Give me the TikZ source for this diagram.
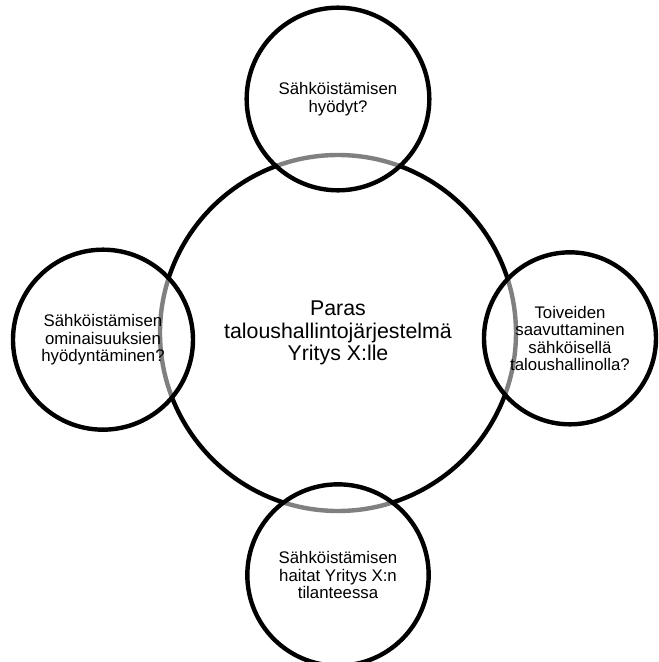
\documentclass[tikz,border=0pt]{standalone}
\usepackage{fontspec}
\setmainfont{Liberation Sans}
\usetikzlibrary{positioning}

\begin{document}
\begin{tikzpicture}[x=0.75pt, y=0.75pt, on grid,
  hub/.style={circle, draw, line width=3.3pt, minimum size=267pt, inner sep=0pt, align=center, font=\fontsize{16}{17}\selectfont},
  spoke/.style={circle, draw, line width=3.3pt, fill=white, fill opacity=0.5, text opacity=1, inner sep=0pt, align=center, font=\fontsize{12.6}{13}\selectfont}]
  \useasboundingbox (-338,-329) rectangle (321,333);
  % centre
  \node[hub] (hub) {Paras\\taloushallintojärjestelmä\\Yritys X:lle};
  % satellites
  \node[spoke, minimum size=137pt, above=175.5pt of hub] (benefits) {Sähköistämisen\\hyödyt?};
  \node[spoke, minimum size=135pt, left=176.25pt of hub, yshift=-5pt] (features) {Sähköistämisen\\ominaisuuksien\\hyödyntäminen?};
  \node[spoke, minimum size=129pt, right=174pt of hub, yshift=-4pt] (wishes) {Toiveiden\\saavuttaminen\\sähköisellä\\taloushallinolla?};
  \node[spoke, minimum size=136pt, below=181.5pt of hub] (drawbacks) {Sähköistämisen\\haitat Yritys X:n\\tilanteessa};
\end{tikzpicture}
\end{document}
